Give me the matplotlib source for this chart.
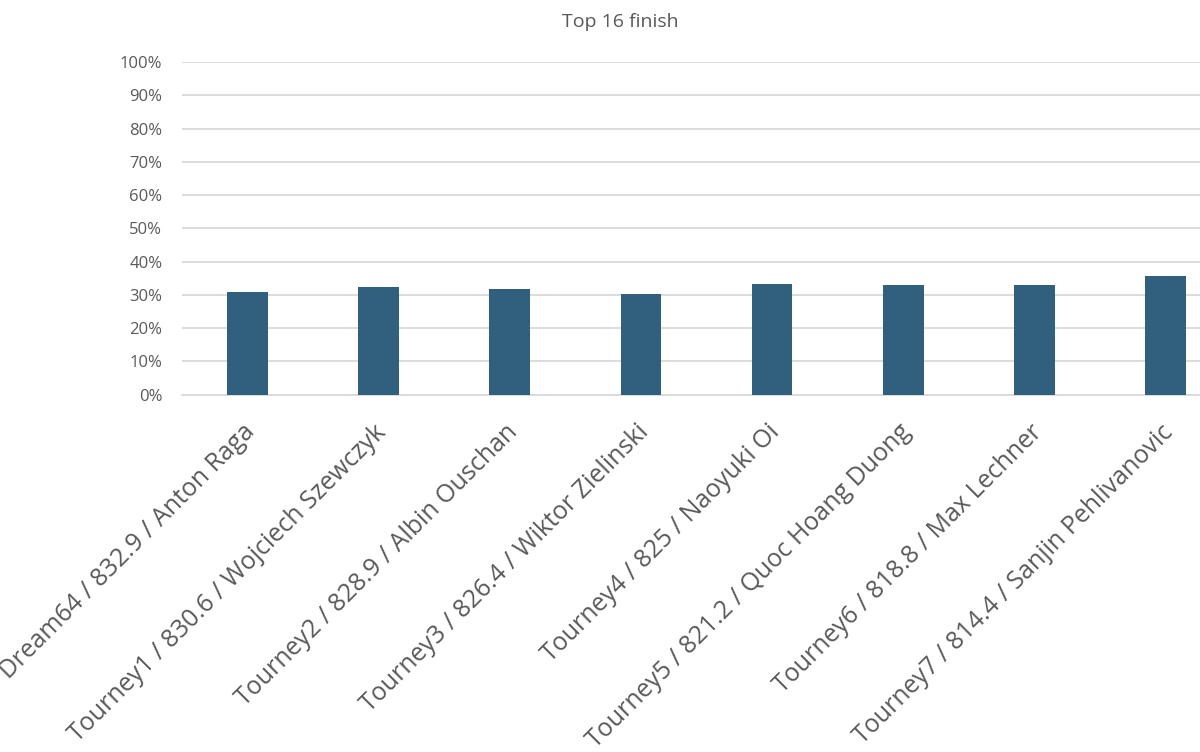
import matplotlib
matplotlib.use("Agg")
import matplotlib.pyplot as plt
import matplotlib.transforms as mtransforms
from matplotlib.ticker import PercentFormatter, MultipleLocator

categories = [
    "Dream64 / 832.9 / Anton Raga",
    "Tourney1 / 830.6 / Wojciech Szewczyk",
    "Tourney2 / 828.9 / Albin Ouschan",
    "Tourney3 / 826.4 / Wiktor Zielinski",
    "Tourney4 / 825 / Naoyuki Oi",
    "Tourney5 / 821.2 / Quoc Hoang Duong",
    "Tourney6 / 818.8 / Max Lechner",
    "Tourney7 / 814.4 / Sanjin Pehlivanovic",
]
values = [0.309, 0.323, 0.317, 0.304, 0.332, 0.329, 0.329, 0.357]
title = "Top 16 finish"

plt.rcParams['font.family'] = ['Open Sans', 'DejaVu Sans']
text_color = "#595959"
grid_color = "#d9d9d9"
bar_color = "#31607f"

fig = plt.figure(figsize=(12, 7.52), dpi=100)
ax = fig.add_axes([181.7/1200, (752-394.7)/752, 1049.7/1200, 332.7/752])

x = list(range(len(categories)))
ax.bar(x, values, width=0.31, color=bar_color, zorder=3)
ax.set_xlim(-0.5, len(categories) - 0.5)
ax.set_ylim(0, 1.0)
ax.yaxis.set_major_locator(MultipleLocator(0.1))
ax.yaxis.set_major_formatter(PercentFormatter(1.0, decimals=0))
ax.grid(axis='y', color=grid_color, linewidth=1.3, zorder=0)
for s in ['top', 'right', 'left']:
    ax.spines[s].set_visible(False)
ax.spines['bottom'].set_color(grid_color)
ax.spines['bottom'].set_linewidth(1.3)
ax.tick_params(axis='y', length=0, pad=14, labelsize=12, labelcolor=text_color)
ax.tick_params(axis='x', length=0, pad=18, labelsize=18, labelcolor=text_color)
ax.set_xticks(x)
ax.set_xticklabels(categories, rotation=45, ha='right', va='top', rotation_mode='anchor')
offset = mtransforms.ScaledTranslation(-5/100, 0, fig.dpi_scale_trans)
for lbl in ax.get_xticklabels():
    lbl.set_transform(lbl.get_transform() + offset)

fig.text(620/1200, 1 - 22/752, title, ha='center', va='center', fontsize=14, color=text_color)

fig.savefig("out.png", dpi=100)
